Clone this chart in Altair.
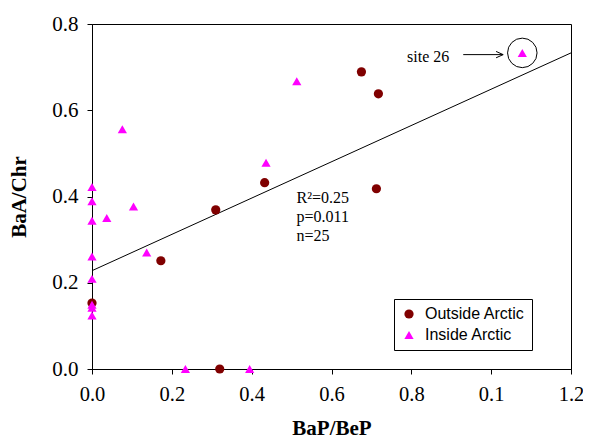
import altair as alt
import pandas as pd

# ---- data ----
outside_x = [0.31, 0.4325, 0.1725, 0.675, 0.7175, 0.7125, 0.32, 0.0]
outside_y = [0.369, 0.432, 0.251, 0.689, 0.638, 0.418, 0.0, 0.153]

inside_x = [0.0, 0.0, 0.076, 0.104, 0.037, 0.0, 0.513, 0.436, 1.078,
            0.0, 0.137, 0.0, 0.0, 0.0, 0.0, 0.234, 0.395]
inside_y = [0.422, 0.389, 0.556, 0.377, 0.350, 0.344, 0.667, 0.478, 0.733,
            0.261, 0.270, 0.209, 0.149, 0.142, 0.124, 0.0, 0.0]

groups = ["Outside Arctic", "Inside Arctic"]
group_colors = ["#800000", "#FF00FF"]
group_shapes = ["circle", "triangle-up"]

fit_x = [0.0, 1.2]
fit_y = [0.228, 0.733]

stats_text = ["R\u00b2=0.25", "p=0.011", "n=25"]
stats_x = [0.5125, 0.5125, 0.5125]
stats_y = [0.396, 0.353, 0.309]

site_label = "site 26"
site_label_x = 0.895
site_label_y = 0.724
arrow_x = [0.93, 1.03]
arrow_y = 0.729
site_x = 1.078
site_y = 0.733

x_tick_values = [0.0, 0.2, 0.4, 0.6, 0.8, 1.0, 1.2]
x_tick_labels = ["0.0", "0.2", "0.4", "0.6", "0.8", "0.1", "1.2"]
y_tick_values = [0.0, 0.2, 0.4, 0.6, 0.8]

# ---- tables ----
pts = pd.DataFrame({
    "x": outside_x + inside_x,
    "y": outside_y + inside_y,
    "group": [groups[0]] * len(outside_x) + [groups[1]] * len(inside_x),
})
fit = pd.DataFrame({"x": fit_x, "y": fit_y})
stats = pd.DataFrame({"x": stats_x, "y": stats_y, "t": stats_text})
site_lbl = pd.DataFrame({"x": [site_label_x], "y": [site_label_y], "t": [site_label]})
arrow = pd.DataFrame({"x": [arrow_x[0]], "x2": [arrow_x[1]], "y": [arrow_y]})
arrow_head = pd.DataFrame({"x": [arrow_x[1]], "y": [arrow_y]})
site = pd.DataFrame({"x": [site_x], "y": [site_y]})

SERIF = "Liberation Serif"
label_expr = "[" + ",".join("'%s'" % s for s in x_tick_labels) + "][round(datum.value*5)]"

xs = alt.Scale(domain=[0, 1.2], nice=False, zero=False)
ys = alt.Scale(domain=[0, 0.8], nice=False, zero=False)

x_axis = alt.Axis(values=x_tick_values, labelExpr=label_expr, title="BaP/BeP",
                  grid=False, tickSize=5, labelPadding=10, titlePadding=13,
                  labelFlush=False, labelOverlap=False,
                  labelFont=SERIF, labelFontSize=20.5, titleFont=SERIF,
                  titleFontSize=21, titleFontWeight="bold", labelColor="black",
                  titleColor="black", domainColor="black", tickColor="black")
y_axis = alt.Axis(values=y_tick_values, format=".1f", title="BaA/Chr",
                  grid=False, tickSize=5, labelPadding=9, titlePadding=22,
                  labelFlush=False, labelOverlap=False,
                  labelFont=SERIF, labelFontSize=21, titleFont=SERIF,
                  titleFontSize=21, titleFontWeight="bold", labelColor="black",
                  titleColor="black", domainColor="black", tickColor="black")

line = alt.Chart(fit).mark_line(color="black", strokeWidth=1).encode(
    x=alt.X("x:Q", scale=xs, axis=x_axis),
    y=alt.Y("y:Q", scale=ys, axis=y_axis),
)

points = alt.Chart(pts).mark_point(filled=True, size=85, opacity=1).encode(
    x=alt.X("x:Q", scale=xs),
    y=alt.Y("y:Q", scale=ys),
    color=alt.Color("group:N", scale=alt.Scale(domain=groups, range=group_colors),
                    legend=alt.Legend(title=None)),
    shape=alt.Shape("group:N", scale=alt.Scale(domain=groups, range=group_shapes),
                    legend=alt.Legend(title=None)),
)

stats_txt = alt.Chart(stats).mark_text(font=SERIF, fontSize=16, align="left",
                                       baseline="middle", color="black").encode(
    x="x:Q", y="y:Q", text="t:N")

site_txt = alt.Chart(site_lbl).mark_text(font=SERIF, fontSize=16, align="right",
                                         baseline="middle", color="black").encode(
    x="x:Q", y="y:Q", text="t:N")

arrow_shaft = alt.Chart(arrow).mark_rule(color="black", strokeWidth=1).encode(
    x="x:Q", x2="x2:Q", y="y:Q")

arrow_tip = alt.Chart(arrow_head).mark_point(
    shape="M-1,-0.45L0,0L-1,0.45", filled=False, color="black",
    strokeWidth=1, size=200, opacity=1).encode(x="x:Q", y="y:Q")

site_circle = alt.Chart(site).mark_point(shape="circle", filled=False, color="black",
                                         strokeWidth=1, size=870, opacity=1).encode(
    x="x:Q", y="y:Q")

chart = alt.layer(line, points, stats_txt, site_txt, arrow_shaft, arrow_tip, site_circle).properties(
    width=479, height=345,
    padding={"left": 84, "top": 16, "right": 12, "bottom": 72},
    autosize=alt.AutoSizeParams(type="none"),
).configure_view(stroke="black", strokeWidth=1).configure_legend(
    orient="none", legendX=302, legendY=275, strokeColor="black", fillColor="white",
    padding=7, labelFont="Liberation Sans", labelFontSize=16, labelColor="black",
    symbolSize=85, rowPadding=5, labelOffset=8, symbolStrokeWidth=0,
)

chart.save("out.html", embed_options={"renderer": "svg", "actions": False})
